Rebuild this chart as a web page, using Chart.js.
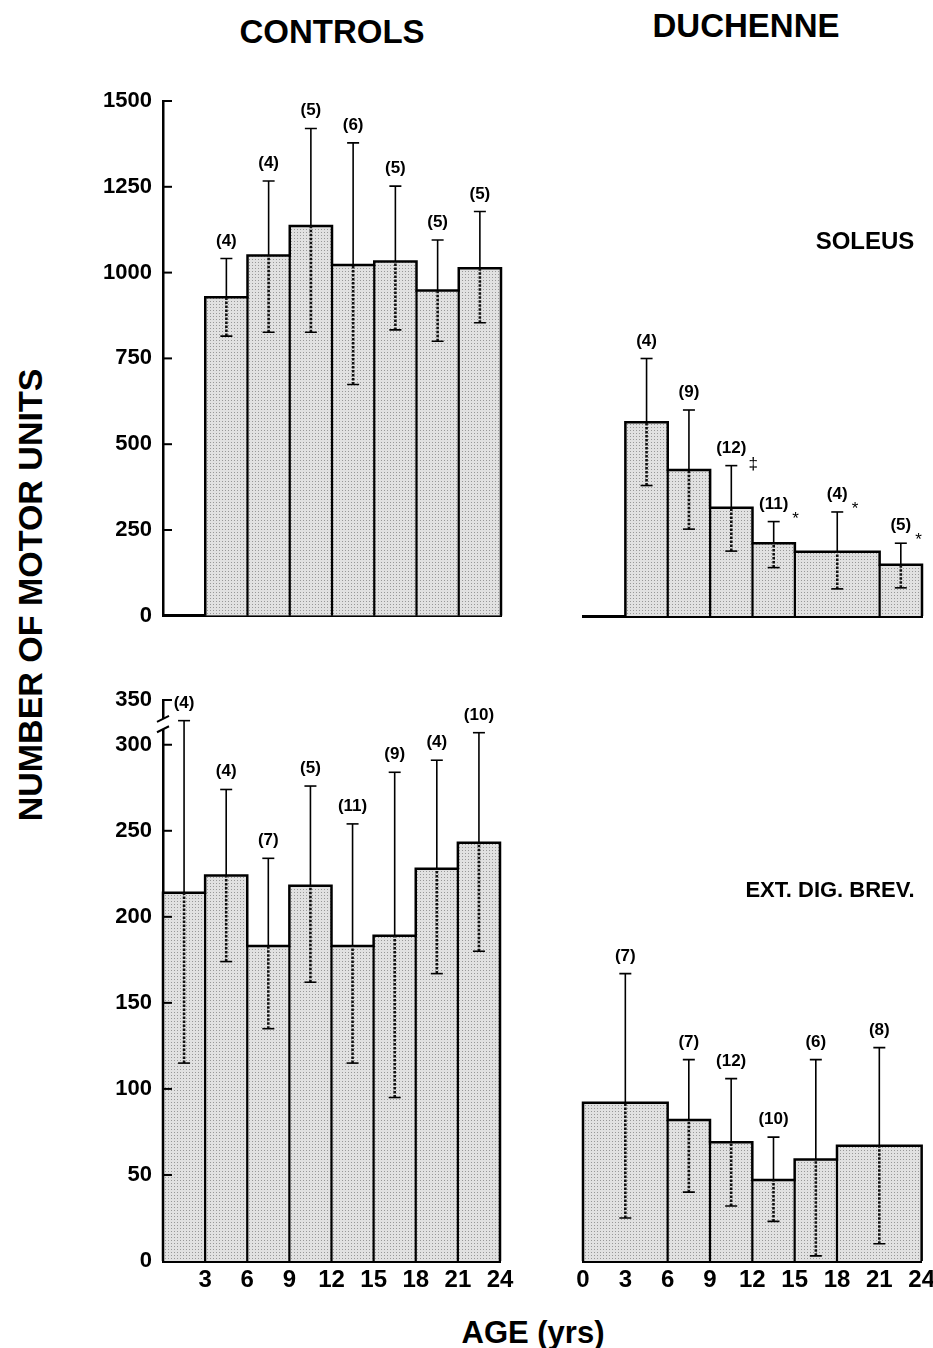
<!DOCTYPE html>
<html>
<head>
<meta charset="utf-8">
<script src="https://cdn.jsdelivr.net/npm/chart.js@4.4.0/dist/chart.umd.min.js"></script>
<style>
  body { margin: 0; background: #fff; }
  #page { position: relative; width: 933px; height: 1348px; overflow: hidden;
          font-family: "Liberation Sans", Arial, sans-serif; font-weight: bold; color: #000; }
  canvas { position: absolute; }
  .t { position: absolute; white-space: nowrap; line-height: 1; transform: translate(-50%, -50%); }
</style>
</head>
<body>
<div id="page">
  <canvas id="cTL" width="440" height="580" style="left:80px; top:60px;"></canvas>
  <canvas id="cTR" width="380" height="580" style="left:560px; top:60px;"></canvas>
  <canvas id="cBL" width="440" height="650" style="left:80px; top:660px;"></canvas>
  <canvas id="cBR" width="380" height="650" style="left:560px; top:660px;"></canvas>

  <div class="t" style="left:332px; top:31px; font-size:33px;">CONTROLS</div>
  <div class="t" style="left:746px; top:25px; font-size:33px;">DUCHENNE</div>
  <div class="t" style="left:865px; top:241px; font-size:24px;">SOLEUS</div>
  <div class="t" style="left:830px; top:890px; font-size:22px;">EXT. DIG. BREV.</div>
  <div class="t" style="left:30px; top:595px; font-size:34px; transform: translate(-50%, -50%) rotate(-90deg);">NUMBER OF MOTOR UNITS</div>
  <div class="t" style="left:533px; top:1332px; font-size:31px;">AGE (yrs)</div>
</div>

<script>
// ---- dados ----
const ageTicks = [0, 3, 6, 9, 12, 15, 18, 21, 24];
const soleusTicks = [0, 250, 500, 750, 1000, 1250, 1500];
const edbTicks = [0, 50, 100, 150, 200, 250, 300];
const edbBreakLabel = '350';
const edbBreakAt = 326; // topo do eixo quebrado

// Controles - soleus
const ctlSolEdges = [3, 6, 9, 12, 15, 18, 21, 24];
const ctlSolMean = [928, 1050, 1136, 1022, 1032, 948, 1013];
const ctlSolHi = [1041, 1267, 1420, 1378, 1252, 1095, 1178];
const ctlSolLo = [815, 826, 826, 674, 833, 800, 854];
const ctlSolN = ['(4)', '(4)', '(5)', '(6)', '(5)', '(5)', '(5)'];

// Duchenne - soleus
const dmdSolEdges = [3, 6, 9, 12, 15, 21, 24];
const dmdSolMean = [564, 425, 315, 212, 187, 149];
const dmdSolHi = [750, 600, 438, 275, 303, 212];
const dmdSolLo = [380, 253, 189, 141, 79, 82];
const dmdSolN = ['(4)', '(9)', '(12)', '(11)', '(4)', '(5)'];
const dmdSolMarks = ['', '', '‡', '*', '*', '*'];

// Controles - ext. dig. brev.
const ctlEdbEdges = [0, 3, 6, 9, 12, 15, 18, 21, 24];
const ctlEdbMean = [214, 224, 183, 218, 183, 189, 228, 243];
const ctlEdbHi = [314, 274, 234, 276, 254, 284, 291, 307];
const ctlEdbLo = [115, 174, 135, 162, 115, 95, 167, 180];
const ctlEdbN = ['(4)', '(4)', '(7)', '(5)', '(11)', '(9)', '(4)', '(10)'];

// Duchenne - ext. dig. brev.
const dmdEdbEdges = [0, 6, 9, 12, 15, 18, 24];
const dmdEdbMean = [92, 82, 69, 47, 59, 67];
const dmdEdbHi = [167, 117, 106, 72, 117, 124];
const dmdEdbLo = [25, 40, 32, 23, 3, 10];
const dmdEdbN = ['(7)', '(7)', '(12)', '(10)', '(6)', '(8)'];

const FONT = '"Liberation Sans", Arial, sans-serif';

// textura pontilhada das barras
const pc = document.createElement('canvas');
pc.width = 3; pc.height = 3;
const pctx = pc.getContext('2d');
pctx.fillStyle = '#e1e1e1'; pctx.fillRect(0, 0, 3, 3);
pctx.fillStyle = '#989898'; pctx.fillRect(1, 1, 1, 1);
const dots = pctx.createPattern(pc, 'repeat');

function mids(edges, mean) {
  return mean.map((v, i) => (edges[i] + edges[i + 1]) / 2);
}

// monta os datasets do histograma + barras de erro
function histogramSets(edges, mean, hi, lo) {
  const outline = [{x: edges[0], y: 0}];
  mean.forEach((v, i) => outline.push({x: edges[i], y: v}, {x: edges[i + 1], y: v}));
  outline.push({x: edges[edges.length - 1], y: 0});

  const dividers = [];
  for (let i = 1; i < mean.length; i++) {
    dividers.push({x: edges[i], y: 0}, {x: edges[i], y: Math.min(mean[i - 1], mean[i])}, {x: edges[i], y: null});
  }

  const up = [], down = [], caps = [];
  mids(edges, mean).forEach((m, i) => {
    up.push({x: m, y: mean[i]}, {x: m, y: hi[i]}, {x: m, y: null});
    down.push({x: m, y: lo[i]}, {x: m, y: mean[i]}, {x: m, y: null});
    caps.push({x: m, y: hi[i]}, {x: m, y: lo[i]});
  });

  return [
    { data: caps, showLine: false, pointStyle: 'line', pointRadius: 6, pointBorderWidth: 1.6,
      pointBorderColor: '#000', order: 0, clip: 10 },
    { data: up, borderColor: '#000', borderWidth: 1.6, pointRadius: 0, order: 1, clip: 10 },
    { data: down, borderColor: '#111', borderWidth: 2.6, borderDash: [2.5, 1.5], pointRadius: 0, order: 1, clip: 10 },
    { data: dividers, borderColor: '#000', borderWidth: 2.2, pointRadius: 0, order: 2, clip: 10 },
    { data: outline, borderColor: '#000', borderWidth: 2.5, pointRadius: 0, fill: 'origin',
      backgroundColor: dots, order: 3, clip: 10 }
  ];
}

// rótulos (n) acima das barras de erro
function nLabels(edges, mean, hi, n, marks) {
  const xs = mids(edges, mean);
  return {
    id: 'nlabels',
    afterDatasetsDraw(chart) {
      const {ctx, scales: {x, y}} = chart;
      ctx.save();
      ctx.fillStyle = '#000';
      ctx.textBaseline = 'alphabetic';
      xs.forEach((m, i) => {
        const px = x.getPixelForValue(m);
        const py = y.getPixelForValue(hi[i]) - 13;
        ctx.font = 'bold 17px ' + FONT;
        ctx.textAlign = 'center';
        ctx.fillText(n[i], px, py);
        if (marks && marks[i]) {
          const w = ctx.measureText(n[i]).width;
          ctx.font = '17px ' + FONT;
          ctx.textAlign = 'left';
          if (marks[i] === '‡') ctx.fillText(marks[i], px + w / 2 + 2, py + 16);
          else ctx.fillText(marks[i], px + w / 2 + 4, py + 15);
        }
      });
      ctx.restore();
    }
  };
}

// marcas de escala para dentro e quebra do eixo
function axisDecor(tickValues, breakAt) {
  return {
    id: 'axisdecor',
    afterDraw(chart) {
      const {ctx, scales: {y}, chartArea: a} = chart;
      ctx.save();
      ctx.strokeStyle = '#000';
      ctx.lineWidth = 2;
      const all = breakAt ? tickValues.concat([breakAt]) : tickValues;
      all.forEach(v => {
        const py = y.getPixelForValue(v);
        ctx.beginPath(); ctx.moveTo(a.left, py); ctx.lineTo(a.left + 9, py); ctx.stroke();
      });
      if (breakAt) {
        const y1 = y.getPixelForValue(breakAt - 17), y2 = y.getPixelForValue(breakAt - 11);
        ctx.fillStyle = '#fff';
        ctx.fillRect(a.left - 4, y2, 8, y1 - y2);
        [y1, y2].forEach(py => {
          ctx.beginPath(); ctx.moveTo(a.left - 6, py + 3); ctx.lineTo(a.left + 6, py - 3); ctx.stroke();
        });
      }
      ctx.restore();
    }
  };
}

function makeChart(id, cfg) {
  const yScale = {
    min: 0, max: cfg.yMax,
    display: cfg.showY,
    afterFit: s => { s.width = cfg.showY ? 83 : 0; },
    afterBuildTicks: s => { s.ticks = cfg.yTicks.map(v => ({value: v})); },
    ticks: {
      color: '#000', padding: 11, font: {family: FONT, size: 22, weight: 'bold'},
      callback: v => (v === edbBreakAt ? edbBreakLabel : v)
    },
    grid: {display: false, drawTicks: false},
    border: {display: true, color: '#000', width: 2.5}
  };
  const xScale = {
    type: 'linear', min: 0, max: 24, offset: false,
    afterFit: s => { s.height = cfg.xHeight; },
    afterBuildTicks: s => { s.ticks = ageTicks.map(v => ({value: v})); },
    ticks: {
      display: cfg.xLabels !== 'none', color: '#000', padding: 5, autoSkip: false, maxRotation: 0,
      font: {family: FONT, size: 24, weight: 'bold'},
      callback: v => (cfg.xLabels === 'noZero' && v === 0 ? '' : v)
    },
    grid: {display: false, drawTicks: false},
    border: {display: true, color: '#000', width: 3}
  };
  return new Chart(document.getElementById(id), {
    type: 'line',
    data: {datasets: histogramSets(cfg.edges, cfg.mean, cfg.hi, cfg.lo)},
    options: {
      responsive: false,
      animation: false,
      events: [],
      layout: {padding: cfg.pad},
      plugins: {legend: {display: false}, tooltip: {enabled: false}},
      scales: {x: xScale, y: yScale}
    },
    plugins: [
      nLabels(cfg.edges, cfg.mean, cfg.hi, cfg.n, cfg.marks),
      ...(cfg.showY ? [axisDecor(cfg.yTicks.slice(1), cfg.breakAt)] : [])
    ]
  });
}

makeChart('cTL', {
  edges: ctlSolEdges, mean: ctlSolMean, hi: ctlSolHi, lo: ctlSolLo, n: ctlSolN,
  yMax: 1500, yTicks: soleusTicks, showY: true, xLabels: 'none', xHeight: 0,
  pad: {top: 41, right: 19, bottom: 24, left: 0}
});

makeChart('cTR', {
  edges: dmdSolEdges, mean: dmdSolMean, hi: dmdSolHi, lo: dmdSolLo, n: dmdSolN, marks: dmdSolMarks,
  yMax: 1500, yTicks: soleusTicks, showY: false, xLabels: 'none', xHeight: 0,
  pad: {top: 41, right: 18, bottom: 24, left: 23}
});

makeChart('cBL', {
  edges: ctlEdbEdges, mean: ctlEdbMean, hi: ctlEdbHi, lo: ctlEdbLo, n: ctlEdbN,
  yMax: edbBreakAt, yTicks: edbTicks.concat([edbBreakAt]), showY: true, breakAt: edbBreakAt,
  xLabels: 'noZero', xHeight: 49,
  pad: {top: 40, right: 20, bottom: 0, left: 0}
});

makeChart('cBR', {
  edges: dmdEdbEdges, mean: dmdEdbMean, hi: dmdEdbHi, lo: dmdEdbLo, n: dmdEdbN,
  yMax: edbBreakAt, yTicks: edbTicks, showY: false, xLabels: 'all', xHeight: 49,
  pad: {top: 40, right: 18, bottom: 0, left: 23}
});
</script>
</body>
</html>
